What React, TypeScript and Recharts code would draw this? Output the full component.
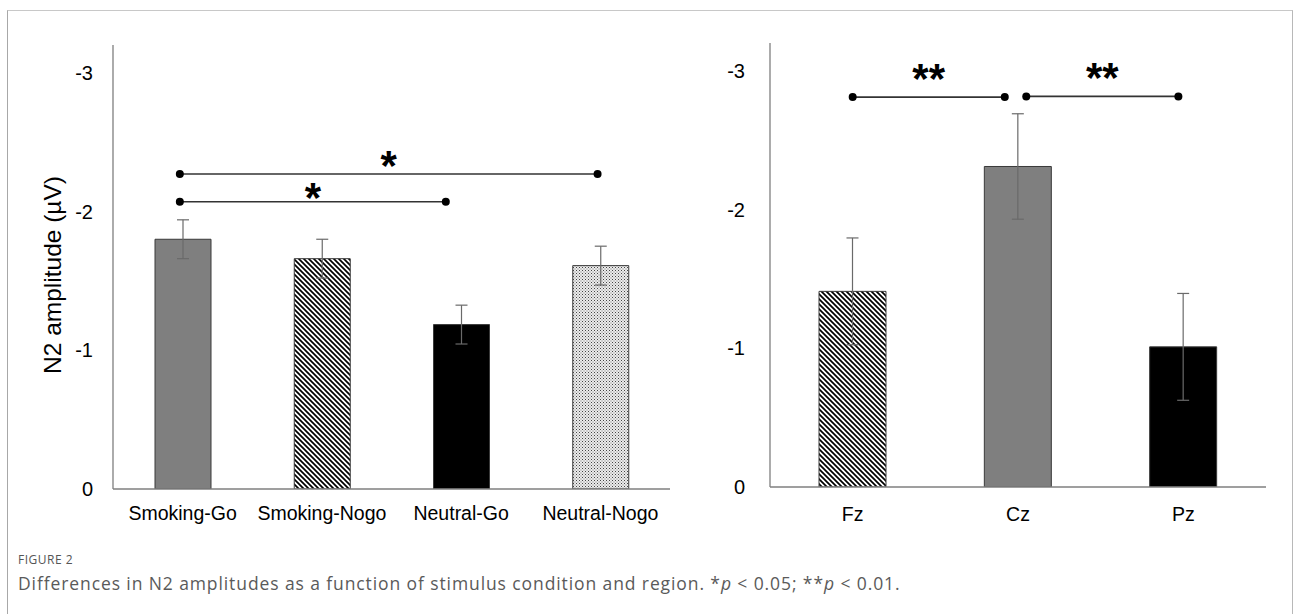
import { BarChart, Bar, XAxis, YAxis, Cell, ErrorBar, ReferenceLine, ReferenceDot, Label } from 'recharts';

const leftCategories = ['Smoking-Go', 'Smoking-Nogo', 'Neutral-Go', 'Neutral-Nogo'];
const leftValues = [-1.8, -1.66, -1.185, -1.61];
const leftErrors = [0.14, 0.14, 0.14, 0.14];

const rightCategories = ['Fz', 'Cz', 'Pz'];
const rightValues = [-1.41, -2.31, -1.01];
const rightErrors = [0.385, 0.38, 0.385];

const yTicks = [0, -1, -2, -3];

// significance brackets, x in category index units
const leftSig = [
  { from: -0.02, to: 2.98, y: -2.27, mark: '*' },
  { from: -0.02, to: 1.89, y: -2.07, mark: '*' },
];
const rightSig = [
  { from: 0.0, to: 0.92, y: -2.81, mark: '**' },
  { from: 1.05, to: 1.97, y: -2.815, mark: '**' },
];

const leftFills = ['#7f7f7f', 'url(#hatch)', '#000000', 'url(#dots)'];
const rightFills = ['url(#hatch)', '#7f7f7f', '#000000'];

const leftData = leftCategories.map((name, i) => ({ name, pos: i, value: leftValues[i], err: leftErrors[i] }));
const rightData = rightCategories.map((name, i) => ({ name, pos: i, value: rightValues[i], err: rightErrors[i] }));

const font = '"Liberation Sans", Arial, sans-serif';
const axisColor = '#7f7f7f';

function Patterns() {
  return (
    <svg width={0} height={0} style={{ position: 'absolute' }}>
      <defs>
        <pattern id="hatch" patternUnits="userSpaceOnUse" width={5} height={5}>
          <rect width={5} height={5} fill="#fff" />
          <path d="M0,0 L5,5 M-1,4 L1,6 M4,-1 L6,1" stroke="#000" strokeWidth={1.7} />
        </pattern>
        <pattern id="dots" patternUnits="userSpaceOnUse" width={3} height={3}>
          <rect width={3} height={3} fill="#ececec" />
          <rect x={0} y={0} width={1} height={1} fill="#444" />
          <rect x={1.5} y={1.5} width={1} height={1} fill="#777" />
        </pattern>
      </defs>
    </svg>
  );
}

function Panel(props: {
  data: { name: string; pos: number; value: number; err: number }[];
  fills: string[];
  sig: { from: number; to: number; y: number; mark: string }[];
  width: number;
  margin: { top: number; right: number; left: number; bottom: number };
  yWidth: number;
  xHeight: number;
  barSize: number;
  tickGapY: number;
  tickGapX: number;
  starOffsets: number[];
  title?: boolean;
}) {
  const n = props.data.length;
  return (
    <BarChart width={props.width} height={540} data={props.data} margin={props.margin}>
      <XAxis
        dataKey="name"
        tickLine={false}
        tickSize={0}
        tickMargin={props.tickGapX}
        height={props.xHeight}
        axisLine={{ stroke: axisColor, strokeWidth: 1.3 }}
        tick={{ fill: '#000', fontSize: 19.5, fontFamily: font }}
        interval={0}
      />
      <XAxis
        xAxisId="n"
        dataKey="pos"
        type="number"
        scale="linear"
        domain={[-0.5, n - 0.5]}
        hide
        allowDataOverflow
      />
      <YAxis
        type="number"
        domain={[-3.2, 0]}
        reversed
        ticks={yTicks}
        tickLine={false}
        tickSize={0}
        tickMargin={props.tickGapY}
        width={props.yWidth}
        axisLine={{ stroke: axisColor, strokeWidth: 1.3 }}
        tick={{ fill: '#000', fontSize: 20, fontFamily: font }}
        allowDataOverflow
        label={
          props.title
            ? {
                content: () => (
                  <text
                    x={52}
                    y={275}
                    transform="rotate(-90, 52, 275)"
                    textAnchor="middle"
                    dominantBaseline="central"
                    fontSize={24.5}
                    fontFamily={font}
                    fill="#000"
                  >
                    N2 amplitude (µV)
                  </text>
                ),
              }
            : undefined
        }
      />
      <Bar dataKey="value" barSize={props.barSize} stroke="#3a3a3a" strokeWidth={1} isAnimationActive={false}>
        {props.data.map((d, i) => (
          <Cell key={d.name} fill={props.fills[i]} />
        ))}
        <ErrorBar dataKey="err" width={6} stroke="#6a6a6a" strokeWidth={1.2} direction="y" isAnimationActive={false} />
      </Bar>
      {props.sig.map((s, i) => (
        <ReferenceLine
          key={'l' + i}
          xAxisId="n"
          ifOverflow="visible"
          segment={[
            { x: s.from, y: s.y },
            { x: s.to, y: s.y },
          ]}
          stroke="#333"
          strokeWidth={1.6}
        >
          <Label
            value={s.mark}
            position="top"
            offset={props.starOffsets[i]}
            fontSize={42}
            fontWeight="bold"
            fontFamily={font}
            fill="#000"
          />
        </ReferenceLine>
      ))}
      {props.sig.flatMap((s, i) => [
        <ReferenceDot key={'a' + i} xAxisId="n" ifOverflow="visible" x={s.from} y={s.y} r={4} fill="#000" stroke="none" />,
        <ReferenceDot key={'b' + i} xAxisId="n" ifOverflow="visible" x={s.to} y={s.y} r={4} fill="#000" stroke="none" />,
      ])}
    </BarChart>
  );
}

export default function App() {
  return (
    <div
      style={{
        position: 'absolute',
        left: 0,
        top: 0,
        width: 1293,
        height: 614,
        overflow: 'hidden',
        background: '#fff',
      }}
    >
      <Patterns />
      <div
        style={{
          position: 'absolute',
          left: 7,
          top: 10,
          width: 1284,
          height: 620,
          borderTop: '1px solid #c8c8c8',
          borderLeft: '1px solid #a8a8a8',
          borderRight: '1px solid #b8b8b8',
        }}
      />
      <div style={{ position: 'absolute', left: 0, top: 0 }}>
        <Panel
          data={leftData}
          fills={leftFills}
          sig={leftSig}
          width={700}
          margin={{ top: 45, right: 30, left: 0, bottom: 0 }}
          yWidth={113}
          xHeight={51}
          barSize={56}
          tickGapY={20}
          tickGapX={17}
          starOffsets={[-6, -10]}
          title
        />
      </div>
      <div style={{ position: 'absolute', left: 660, top: 0 }}>
        <Panel
          data={rightData}
          fills={rightFills}
          sig={rightSig}
          width={633}
          margin={{ top: 43, right: 27, left: 0, bottom: 0 }}
          yWidth={110}
          xHeight={53}
          barSize={67}
          tickGapY={25}
          tickGapX={20}
          starOffsets={[4, 4]}
        />
      </div>
      <div
        style={{
          position: 'absolute',
          left: 18,
          top: 551,
          fontFamily: '"Open Sans", sans-serif',
          fontSize: 12,
          letterSpacing: 0.5,
          color: '#555',
        }}
      >
        FIGURE 2
      </div>
      <div
        style={{
          position: 'absolute',
          left: 18,
          top: 571,
          fontFamily: '"Open Sans", sans-serif',
          fontSize: 17.5,
          letterSpacing: 0.9,
          color: '#5a5a5a',
          whiteSpace: 'nowrap',
        }}
      >
        Differences in N2 amplitudes as a function of stimulus condition and region. *<i>p</i> &lt; 0.05; **<i>p</i> &lt; 0.01.
      </div>
    </div>
  );
}
